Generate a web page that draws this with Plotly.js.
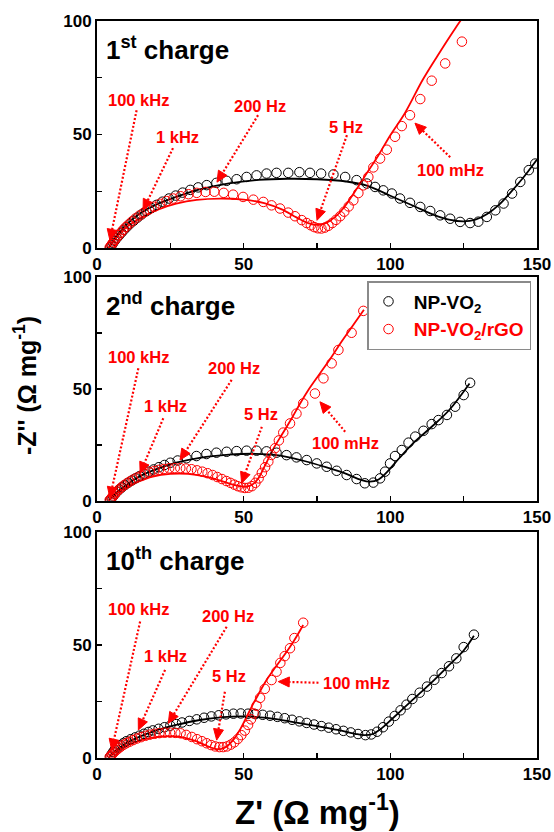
<!DOCTYPE html>
<html>
<head>
<meta charset="utf-8">
<script src="https://cdn.plot.ly/plotly-3.0.1.min.js"></script>
<style>html,body{margin:0;padding:0;background:#fff;}#chart{width:554px;height:832px;}</style>
</head>
<body>
<div id="chart"></div>
<script>
// ---------------- DATA ----------------
// Axis ticks (labelled major ticks and unlabelled minor ticks)
const X_TICKS = [0, 50, 100, 150];
const X_MINOR_TICKS = [25, 75, 125];
const Y_TICKS = [0, 50, 100];
const Y_MINOR_TICKS = [25, 75];

const SERIES_NAMES = ['NP-VO<sub>2</sub>', 'NP-VO<sub>2</sub>/rGO'];
const PANEL_LABELS = ['1<sup>st</sup> charge', '2<sup>nd</sup> charge', '10<sup>th</sup> charge'];
const FREQ_LABELS = ['100 kHz', '1 kHz', '200 Hz', '5 Hz', '100 mHz'];

// ---- Panel 1 (1st charge) ----
const p1_np_x = [4.5, 5, 5.5, 6, 6.7, 7.5, 8.3, 9.2, 10.2, 11.3, 12.5, 13.8, 15.2, 16.8, 18.5, 20.3, 22.3, 24.5, 26.8, 29.2, 31.8, 34.5, 37.4, 40.7, 44.2, 47.6, 51, 54.4, 57.8, 61.2, 65.2, 69, 72.6, 76.4, 80.6, 84.6, 88.5, 92, 94.8, 97.6, 100.5, 103.3, 106.7, 110.2, 113.6, 117, 120.4, 123.8, 127.2, 130, 132.9, 135.8, 138.6, 141.5, 144.3, 147.2, 149.4];
const p1_np_y = [0.3, 1.2, 2.2, 3.2, 4.3, 5.5, 6.7, 8, 9.3, 10.7, 12, 13.4, 14.8, 16.2, 17.6, 19, 20.4, 21.8, 23.1, 24.4, 25.6, 26.7, 27.7, 28.7, 29.6, 30.3, 31.3, 32, 32.8, 33.1, 33.1, 33.4, 33.1, 32.8, 32.4, 31.3, 29.9, 28.4, 26.9, 25.4, 24, 21.8, 19.9, 18.1, 16.3, 14.4, 12.9, 11.5, 11, 11.6, 13.7, 16.6, 19.6, 24, 29.1, 34.3, 37.2];
const p1_np_fit_x = [4, 5, 6.5, 9, 12, 15, 20, 27, 35, 45, 55, 65, 75, 85, 92, 100, 108, 115, 120, 125, 129, 133, 137, 141, 145, 150];
const p1_np_fit_y = [0, 2, 5, 9, 12.5, 15.5, 19, 22.5, 25.8, 28.5, 30, 30.5, 30.3, 29.3, 27.5, 23, 18.5, 14.5, 12.5, 11.7, 12.5, 15, 19, 24.5, 30.5, 39];
const p1_rgo_x = [4.3, 4.7, 5.1, 5.6, 6.1, 6.7, 7.4, 8.1, 8.9, 9.8, 10.8, 11.9, 13.1, 14.5, 16, 17.7, 19.5, 21.5, 23.7, 26, 28.5, 31.2, 34, 37, 40, 43.2, 46.4, 49.8, 53.3, 56.7, 59.5, 62.4, 65.2, 67.5, 69.8, 71.5, 72.9, 74.1, 75.3, 76.5, 77.7, 78.9, 80.2, 81.5, 82.9, 84.3, 85.8, 87.4, 89.1, 90.8, 92.5, 94.2, 96.5, 98.8, 101.6, 103.9, 106.7, 110.2, 114.1, 118.7, 124.4];
const p1_rgo_y = [0.2, 0.9, 1.7, 2.6, 3.6, 4.6, 5.7, 6.8, 8, 9.2, 10.4, 11.7, 13, 14.3, 15.6, 16.9, 18.2, 19.5, 20.7, 21.8, 22.8, 23.7, 24.3, 24.7, 24.8, 24.3, 23.5, 22.5, 21.3, 20.3, 18.8, 17.4, 15.6, 14, 12.3, 11, 10, 9.2, 8.7, 8.6, 9, 9.8, 11, 12.4, 14, 16, 18.3, 21, 24.2, 27.6, 31.3, 35.5, 39.4, 43.3, 49, 53.7, 58.5, 65.6, 73.7, 81.3, 90.9];
const p1_rgo_fit_x = [4, 5, 6.5, 9, 12, 16, 21, 27, 34, 42, 50, 57, 63, 68, 72, 75, 78, 81, 84, 88, 92, 96, 100, 105, 111, 116, 122, 126];
const p1_rgo_fit_y = [0, 2, 4.5, 8, 11, 14, 17, 19.5, 21.2, 21.8, 21.3, 19.8, 17, 13.5, 11, 10.2, 11, 13.5, 17.5, 25, 33, 41, 49.7, 59.5, 74, 84.5, 96.5, 104];

// ---- Panel 2 (2nd charge) ----
const p2_np_x = [4.5, 5, 5.5, 6.1, 6.8, 7.6, 8.5, 9.5, 10.6, 11.8, 13.1, 14.5, 16, 17.6, 19.3, 21.1, 23, 25, 27.5, 30.5, 33.9, 37.3, 40.7, 44.2, 47.6, 51, 54.4, 57.8, 61.2, 64.6, 68, 71.5, 74.9, 78.3, 81.7, 85.1, 88.5, 91.3, 94.2, 96.5, 98.2, 99.9, 101.6, 103.9, 106.2, 108.5, 111.3, 114.1, 116.4, 119.3, 122.1, 125, 127.2];
const p2_np_y = [0.3, 1.1, 2, 3, 4, 5, 6, 7, 8, 9, 10, 11, 12, 13, 14, 15, 16, 17, 18, 19, 20, 20.9, 21.5, 21.9, 22.2, 22.4, 22.4, 22.1, 21.5, 20.4, 19.4, 18.2, 16.7, 15.2, 13.4, 11.5, 9.7, 7.8, 8.1, 10, 13, 16.7, 20, 22.7, 26, 28.7, 31.3, 34.3, 36.1, 38.4, 42.1, 47.3, 52.8];
const p2_np_fit_x = [4, 5, 7, 10, 14, 20, 27, 35, 45, 54, 62, 70, 78, 85, 90, 93, 96, 99, 103, 108, 114, 120, 127];
const p2_np_fit_y = [0, 1.5, 4, 7, 10.5, 14, 17, 19.2, 20.6, 21, 20.3, 18, 15, 12, 9.3, 8.5, 9.5, 13, 19, 26, 33, 40.5, 52.5];
const p2_rgo_x = [4.3, 4.7, 5.1, 5.6, 6.1, 6.7, 7.4, 8.2, 9.1, 10.1, 11.2, 12.4, 13.7, 15.1, 16.5, 18, 19.5, 21.1, 22.8, 24.6, 26.5, 28.4, 30.3, 32.2, 34.1, 35.9, 37.7, 39.4, 41, 42.6, 44.1, 45.5, 46.8, 48, 49.2, 50.4, 51.6, 52.8, 54, 55.1, 56.2, 57.3, 58.4, 59.5, 60.7, 62, 63.5, 65.8, 68, 70.3, 74.3, 77.2, 80, 82.3, 86.8, 90.8];
const p2_rgo_y = [0.2, 0.8, 1.5, 2.3, 3.1, 4, 4.9, 5.8, 6.8, 7.7, 8.6, 9.5, 10.4, 11.2, 12, 12.7, 13.3, 13.8, 14.2, 14.5, 14.6, 14.6, 14.4, 14.1, 13.6, 13, 12.3, 11.5, 10.6, 9.7, 8.8, 8, 7.2, 6.5, 6, 5.7, 5.8, 6.5, 8, 10, 12.5, 15, 17.5, 20.5, 23.5, 27, 30.5, 34.6, 39, 43.6, 48, 54.8, 61.5, 67.5, 75.2, 85];
const p2_rgo_fit_x = [4, 5, 7, 10, 14, 19, 25, 31, 37, 42, 46, 49, 51, 53, 55, 57, 60, 63, 66, 69, 72, 76, 80, 83, 87, 91];
const p2_rgo_fit_y = [0, 1.5, 3.5, 6, 8.5, 10.8, 12, 12, 10.8, 9, 7.3, 6.4, 6.3, 7.3, 10, 15, 23, 29.5, 36, 43, 49.5, 57, 64.5, 70.5, 78, 85.5];

// ---- Panel 3 (10th charge) ----
const p3_np_x = [4.5, 5, 5.5, 6, 7, 8, 9, 10, 11.5, 13, 14.5, 16, 17.5, 19, 21, 23, 25, 27, 29, 31.5, 34, 36.5, 39, 41.5, 44, 46.5, 49, 51.5, 54, 56.5, 59, 61.5, 64, 66.5, 69, 71.5, 74, 76.5, 79, 81.5, 84, 86.5, 89, 91.5, 93.5, 95.5, 97.5, 99.5, 101.5, 103.5, 105.5, 107.5, 110, 112.5, 115, 117.5, 120, 122.5, 125, 128.5];
const p3_np_y = [0.5, 1.5, 2.5, 3.5, 4.5, 5.5, 6.5, 7.3, 8.2, 9, 9.8, 10.6, 11.4, 12.1, 12.8, 13.5, 14.2, 14.9, 15.6, 16.3, 17, 17.7, 18.3, 18.8, 19.2, 19.5, 19.6, 19.5, 19.3, 19, 18.6, 18.1, 17.5, 16.8, 16.1, 15.4, 14.7, 14, 13.3, 12.6, 11.9, 11.2, 10.5, 10, 10.3, 11.5, 13.5, 16, 18.5, 21, 23.5, 26, 28.8, 31.5, 34.5, 37.5, 40.5, 44, 49, 54.5];
const p3_np_fit_x = [4, 5, 7, 10, 14, 20, 27, 35, 43, 50, 58, 66, 74, 82, 88, 91, 94, 97, 100, 105, 110, 115, 120, 125, 128.5];
const p3_np_fit_y = [0, 1.5, 3.8, 6.5, 9, 12, 14.5, 16.7, 18, 18.3, 17.6, 16, 14.2, 12.3, 10.6, 10, 10.5, 13, 16.5, 22.5, 28.5, 34.5, 41, 47.5, 54];
const p3_rgo_x = [4.3, 4.7, 5.1, 5.5, 6, 6.6, 7.3, 8.1, 9, 10, 11.1, 12.3, 13.6, 15, 16.5, 18, 19.6, 21.3, 23.1, 24.9, 26.7, 28.5, 30.4, 32.3, 34.1, 35.8, 37.4, 38.9, 40.3, 41.7, 43, 44.3, 45.6, 46.8, 48, 49.2, 50.4, 51.5, 52.5, 53.4, 54.4, 55.6, 57.2, 59.5, 61.2, 62.5, 64, 65.8, 67.3, 70.3];
const p3_rgo_y = [0.2, 0.8, 1.4, 2, 2.7, 3.4, 4.1, 4.9, 5.7, 6.4, 7.1, 7.8, 8.5, 9.1, 9.7, 10.2, 10.6, 10.9, 11.1, 11.1, 11, 10.8, 10.1, 9.2, 8.2, 7.3, 6.4, 5.6, 5, 4.7, 4.7, 5, 5.8, 6.8, 8.3, 10, 12, 14.5, 17, 19.6, 23, 26.5, 30.5, 34.4, 38.1, 42, 45, 48.5, 53, 59.8];
const p3_rgo_fit_x = [4, 5, 7, 10, 14, 18, 22, 26, 30, 34, 37, 40, 42, 44, 46.4, 49, 52.1, 55, 57.8, 60.5, 63.5, 67, 70.3];
const p3_rgo_fit_y = [0, 1.3, 3.2, 5.3, 7.3, 8.7, 9.4, 9.5, 8.8, 7.2, 5.5, 4, 3.8, 4.8, 7.8, 13, 21, 28, 34.4, 39.5, 44.8, 51.5, 58.8];

// ---------------- LAYOUT / STYLE ----------------
const FONT = 'Liberation Sans, Arial, Helvetica, sans-serif';
const RED = '#ff0000';
const W = 554, H = 832;
const M = {l: 97, r: 17, t: 0, b: 0};
const Y_DOMAINS = [[0.7019, 0.9748], [0.3982, 0.6666], [0.0893, 0.3606]];

// Frequency-label annotation placement per panel: [labelX, labelY, tailX, tailY, headX, headY]
const ARROWS = [
  [[14, 65, 13.5, 60.7, 4.4, 3.4], [27.3, 48.8, 25.9, 44, 15.7, 16.6], [55.6, 62.5, 54.9, 58.5, 40.9, 29], [84.9, 53.2, 85.2, 49.7, 75, 12.2], [120.4, 34.3, 120.4, 40, 108.4, 55]],
  [[14.3, 64.5, 14.1, 59.3, 4.4, 1.2], [23.2, 42.4, 22.6, 36.9, 14.7, 12.3], [46.7, 59.3, 45.9, 54.1, 28.3, 18.2], [55.8, 38.8, 56.2, 33.1, 49.3, 7.8], [84.6, 26, 84.6, 30.9, 76, 44.3]],
  [[14.3, 65.8, 14.7, 60.3, 5, 3.4], [23.5, 45.2, 23.2, 38.9, 14.1, 12.3], [44.8, 62.8, 44.2, 58, 24.3, 15.2], [45.1, 36.2, 43.6, 29.2, 40.8, 7.8], [88.5, 33, 75.5, 33.2, 61.8, 33.7]]
];

const panels = [
  {npx: p1_np_x, npy: p1_np_y, nfx: p1_np_fit_x, nfy: p1_np_fit_y, rx: p1_rgo_x, ry: p1_rgo_y, rfx: p1_rgo_fit_x, rfy: p1_rgo_fit_y},
  {npx: p2_np_x, npy: p2_np_y, nfx: p2_np_fit_x, nfy: p2_np_fit_y, rx: p2_rgo_x, ry: p2_rgo_y, rfx: p2_rgo_fit_x, rfy: p2_rgo_fit_y},
  {npx: p3_np_x, npy: p3_np_y, nfx: p3_np_fit_x, nfy: p3_np_fit_y, rx: p3_rgo_x, ry: p3_rgo_y, rfx: p3_rgo_fit_x, rfy: p3_rgo_fit_y}
];

const traces = [];
const annotations = [];
const shapes = [];
const layout = {
  width: W, height: H, margin: M, autosize: false,
  paper_bgcolor: '#fff', plot_bgcolor: '#fff',
  font: {family: FONT, color: '#000', weight: 'bold'},
  showlegend: true,
  legend: {
    x: (367 - M.l) / (W - M.l - M.r), y: 1 - 281 / H, xanchor: 'left', yanchor: 'top',
    bgcolor: '#fff', bordercolor: '#8a8a8a', borderwidth: 1.5,
    font: {family: FONT, size: 19, weight: 'bold'},
    itemwidth: 30
  }
};

panels.forEach((p, i) => {
  const n = i + 1;
  const xk = n === 1 ? 'x' : 'x' + n;
  const yk = n === 1 ? 'y' : 'y' + n;
  const legend = (n === 2);
  traces.push({x: p.nfx, y: p.nfy, xaxis: xk, yaxis: yk, mode: 'lines', line: {color: '#000', width: 1.8, shape: 'spline', smoothing: 1}, showlegend: false, hoverinfo: 'skip'});
  traces.push({x: p.rfx, y: p.rfy, xaxis: xk, yaxis: yk, mode: 'lines', line: {color: RED, width: 1.8, shape: 'spline', smoothing: 1}, showlegend: false, hoverinfo: 'skip'});
  traces.push({x: p.npx, y: p.npy, xaxis: xk, yaxis: yk, mode: 'markers', name: '&nbsp;' + SERIES_NAMES[0],
    marker: {symbol: 'circle-open', size: 9.5, color: '#000', line: {width: 1}}, showlegend: legend});
  traces.push({x: p.rx, y: p.ry, xaxis: xk, yaxis: yk, mode: 'markers', name: '<span style="color:#ff0000">&nbsp;' + SERIES_NAMES[1] + '</span>',
    marker: {symbol: 'circle-open', size: 9.5, color: RED, line: {width: 1}}, showlegend: legend});

  const xname = n === 1 ? 'xaxis' : 'xaxis' + n;
  const yname = n === 1 ? 'yaxis' : 'yaxis' + n;
  const tf = {family: FONT, size: 17, weight: 'bold', color: '#000'};
  const common = {ticks: 'inside', ticklen: 5, tickwidth: 1.5, tickcolor: '#000', showline: true, linewidth: 2,
    linecolor: '#000', mirror: true, showgrid: false, zeroline: false, tickfont: tf, fixedrange: true, tickmode: 'array'};
  layout[xname] = Object.assign({domain: [0, 1], anchor: yk, range: [0, 150], tickvals: X_TICKS, ticktext: X_TICKS.map(String),
    minor: {tickmode: 'array', tickvals: X_MINOR_TICKS, ticks: 'inside', ticklen: 5, tickwidth: 1.5, tickcolor: '#000', showgrid: false}}, common);
  layout[yname] = Object.assign({domain: Y_DOMAINS[i], anchor: xk, range: [0, 100], tickvals: Y_TICKS, ticktext: Y_TICKS.map(String),
    minor: {tickmode: 'array', tickvals: Y_MINOR_TICKS, ticks: 'inside', ticklen: 5, tickwidth: 1.5, tickcolor: '#000', showgrid: false}}, common);

  // panel label
  annotations.push({xref: xk + ' domain', yref: yk + ' domain', x: 0.016, y: 0.88, xanchor: 'left', yanchor: 'middle',
    text: PANEL_LABELS[i], showarrow: false, font: {family: FONT, size: 26, weight: 'bold', color: '#000'}});

  // frequency arrows: dotted shaft + filled triangular head
  const sx = (W - M.l - M.r) / 150;
  const sy = (Y_DOMAINS[i][1] - Y_DOMAINS[i][0]) * H / 100;
  ARROWS[i].forEach((a, k) => {
    const [lx, ly, tx, ty, hx, hy] = a;
    annotations.push({xref: xk, yref: yk, x: lx, y: ly, text: FREQ_LABELS[k], showarrow: false,
      font: {family: FONT, size: 16.5, weight: 'bold', color: RED}});
    const dxp = (tx - hx) * sx, dyp = -(ty - hy) * sy;   // pixel vector head->tail (screen y down)
    const len = Math.sqrt(dxp * dxp + dyp * dyp);
    const ux = dxp / len, uy = dyp / len;
    const HL = 11, HW = 5;
    const bx = ux * HL, by = uy * HL;
    const toD = (px, py) => [hx + px / sx, hy - py / sy];
    const b1 = toD(bx - uy * HW, by + ux * HW);
    const b2 = toD(bx + uy * HW, by - ux * HW);
    const bc = toD(bx, by);
    shapes.push({type: 'line', xref: xk, yref: yk, x0: tx, y0: ty, x1: bc[0], y1: bc[1],
      line: {color: RED, width: 2.2, dash: '2px,2px'}});
    shapes.push({type: 'path', xref: xk, yref: yk,
      path: `M ${hx},${hy} L ${b1[0]},${b1[1]} L ${b2[0]},${b2[1]} Z`,
      fillcolor: RED, line: {color: RED, width: 1}});
  });
});

// axis titles
annotations.push({xref: 'paper', yref: 'paper', x: 0.5, y: 1 - 810 / H, xanchor: 'center', yanchor: 'middle',
  text: "Z' (Ω mg<sup>-1</sup>)", showarrow: false, font: {family: FONT, size: 33, weight: 'bold', color: '#000'}});
annotations.push({xref: 'paper', yref: 'paper', x: (25 - M.l) / (W - M.l - M.r), y: 1 - 386 / H, xanchor: 'center', yanchor: 'middle',
  text: "-Z'' (Ω mg<sup>-1</sup>)", textangle: -90, showarrow: false, font: {family: FONT, size: 25, weight: 'bold', color: '#000'}});

layout.annotations = annotations;
layout.shapes = shapes;

Plotly.newPlot('chart', traces, layout, {displayModeBar: false, staticPlot: true});
</script>
</body>
</html>
